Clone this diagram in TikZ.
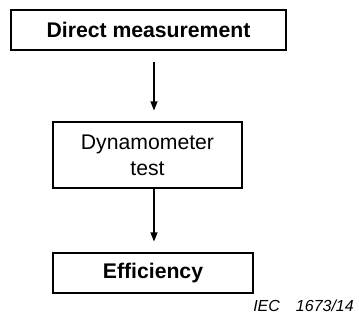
\documentclass[tikz,border=0pt]{standalone}
\usepackage{fontspec}
\setmainfont{Liberation Sans}
\usetikzlibrary{arrows.meta}
\begin{document}
\begin{tikzpicture}[x=1pt,y=-1pt,
  box/.style={draw, line width=1.1pt, inner sep=0pt, align=center},
  arr/.style={line width=1.1pt, -{Triangle[length=9pt,width=7pt]}, shorten >=11pt}]
  \useasboundingbox (0,0) rectangle (359,324);
  % process boxes
  \node[box, minimum width=275pt, minimum height=40pt,
        font=\bfseries\fontsize{21.2}{25}\selectfont] (b1) at (148.5,30) {Direct measurement};
  \node[box, minimum width=189pt, minimum height=66pt,
        font=\fontsize{21.2}{26}\selectfont] (b2) at (147.5,155) {Dynamometer\\test};
  \node[box, minimum width=200pt, minimum height=40pt,
        font=\bfseries\fontsize{21.2}{25}\selectfont] (b3) at (153,273) {Efficiency};
  % arrows along a common vertical line
  \coordinate (ax) at (154,0);
  \draw[arr, shorten <=11pt] (b1.south -| ax) -- (b2.north -| ax);
  \draw[arr] (b2.south -| ax) -- (b3.north -| ax);
  % figure reference
  \node[anchor=base east, inner sep=0pt, font=\itshape\fontsize{16}{19}\selectfont] (ref) at (354,311) {IEC\hspace{16pt}1673/14};
\end{tikzpicture}
\end{document}
